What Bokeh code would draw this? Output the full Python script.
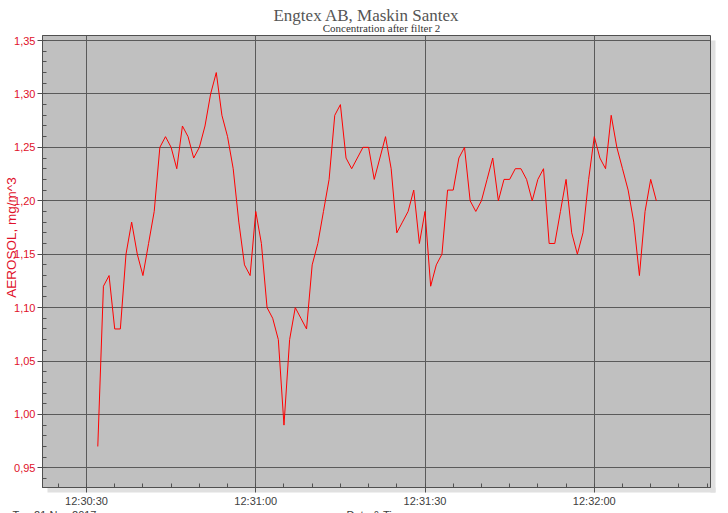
import math
import pandas as pd
from bokeh.plotting import figure
from bokeh.layouts import column
from bokeh.models import (ColumnDataSource, Range1d, SingleIntervalTicker,
                          DatetimeTickFormatter, CustomJSTickFormatter, Label, BoxAnnotation)
from bokeh.embed import file_html
from bokeh.resources import INLINE

# ---- data ----
title_text = "Engtex AB, Maskin Santex"
subtitle_text = "Concentration after filter 2"
y_label = "AEROSOL, mg/m^3"
x_label = "Date & Time"
date_label = "Tue 21 Nov 2017"

start_time = "2017-11-21 12:30:32"
sample_seconds = 1

aerosol = [
    0.97, 1.12, 1.13, 1.08, 1.08, 1.15, 1.18, 1.15, 1.13, 1.16,
    1.19, 1.25, 1.26, 1.25, 1.23, 1.27, 1.26, 1.24, 1.25, 1.27,
    1.30, 1.32, 1.28, 1.26, 1.23, 1.18, 1.14, 1.13, 1.19, 1.16,
    1.10, 1.09, 1.07, 0.99, 1.07, 1.10, 1.09, 1.08, 1.14, 1.16,
    1.19, 1.22, 1.28, 1.29, 1.24, 1.23, 1.24, 1.25, 1.25, 1.22,
    1.24, 1.26, 1.23, 1.17, 1.18, 1.19, 1.21, 1.16, 1.19, 1.12,
    1.14, 1.15, 1.21, 1.21, 1.24, 1.25, 1.20, 1.19, 1.20, 1.22,
    1.24, 1.20, 1.22, 1.22, 1.23, 1.23, 1.22, 1.20, 1.22, 1.23,
    1.16, 1.16, 1.19, 1.22, 1.17, 1.15, 1.17, 1.22, 1.26, 1.24,
    1.23, 1.28, 1.25, 1.23, 1.21, 1.18, 1.13, 1.19, 1.22, 1.20,
]

x_start = "2017-11-21 12:30:22.2"
x_end = "2017-11-21 12:32:20.6"
y_start = 0.9316
y_end = 1.3547

times = pd.date_range(start=start_time, periods=len(aerosol), freq=f"{sample_seconds}s")
src = ColumnDataSource(dict(t=times, v=aerosol))

W, H = 728, 513
BL, BT, BR, BB = 42, 35, 18, 26
RED = "#E0102A"

# ---- background layer: page texts and frame shadow (pixel layout of the page) ----
bg = figure(width=W, height=H, x_range=Range1d(0, W), y_range=Range1d(0, H),
            min_border=0, x_axis_location=None, y_axis_location=None,
            output_backend="svg", toolbar_location=None, title=None)
bg.grid.visible = False
bg.outline_line_color = None
bg.background_fill_color = "white"
bg.border_fill_color = "white"

shadow = "#E0E0E0"
def screen_box(l, r, t, b):
    # window pixel box -> screen units of bg frame (y up from bottom)
    return BoxAnnotation(left=l, right=r, top=H - t, bottom=H - b,
                         left_units="screen", right_units="screen",
                         top_units="screen", bottom_units="screen",
                         fill_color=shadow, fill_alpha=1, line_alpha=0)

bg.add_layout(screen_box(W - BR, W - BR + 5, BT + 5, H - BB + 5))
bg.add_layout(screen_box(BL + 5, W - BR + 5, H - BB, H - BB + 5))

def page_label(x, y, text, **kw):
    bg.add_layout(Label(x=x, y=H - y, x_units="screen", y_units="screen", text=text, **kw))

page_label(366, 15, title_text, text_align="center", text_baseline="alphabetic",
           text_font="Liberation Serif", text_font_size="17px", text_color="#555555")
page_label(381, 27, subtitle_text, text_align="center", text_baseline="alphabetic",
           text_font="Liberation Serif", text_font_size="11px", text_color="#333333")
page_label(11, 237, y_label, angle=math.pi / 2, text_align="center",
           text_baseline="alphabetic",
           text_font="Liberation Sans", text_font_size="13.5px", text_color=RED)
page_label(12, 514, date_label, text_align="left", text_baseline="alphabetic",
           text_font="Liberation Sans", text_font_size="11px", text_color="#404040")
page_label(346, 514, x_label, text_align="left", text_baseline="alphabetic",
           text_font="Liberation Sans", text_font_size="11px", text_color="#404040")

# ---- main chart ----
p = figure(width=W, height=H, x_axis_type="datetime", output_backend="svg",
           toolbar_location=None, title=None,
           x_range=Range1d(pd.Timestamp(x_start), pd.Timestamp(x_end)),
           y_range=Range1d(y_start, y_end),
           min_border_left=BL, min_border_top=BT, min_border_right=BR, min_border_bottom=BB,
           margin=(-H, 0, 0, 0))

# the two layers must not share frame alignment
for fig in (bg, p):
    if "frame_align" in fig.properties():
        fig.frame_align = False

p.background_fill_color = "#C0C0C0"
p.border_fill_alpha = 0
p.outline_line_color = "#505050"
p.outline_line_width = 1

p.line(x="t", y="v", source=src, line_color="#FF0000", line_width=1)

xa = p.xaxis[0]
xa.ticker = SingleIntervalTicker(interval=30000, num_minor_ticks=6)
xa.formatter = DatetimeTickFormatter(seconds="%H:%M:%S", minsec="%H:%M:%S",
                                     minutes="%H:%M:%S", hourmin="%H:%M:%S",
                                     hours="%H:%M:%S", milliseconds="%H:%M:%S")
ya = p.yaxis[0]
ya.ticker = SingleIntervalTicker(interval=0.05, num_minor_ticks=5)
ya.formatter = CustomJSTickFormatter(code="return tick.toFixed(2).replace('.', ',');")

for ax in (xa, ya):
    ax.axis_line_color = "#505050"
    ax.major_tick_line_color = "#505050"
    ax.minor_tick_line_color = "#505050"
    ax.major_tick_out = 5
    ax.major_tick_in = 0
    ax.minor_tick_in = 4
    ax.minor_tick_out = 0
    ax.major_label_text_font = "Liberation Sans"
    ax.major_label_text_font_size = "11px"

xa.major_label_text_color = "#404040"
xa.major_label_standoff = 2
ya.major_label_text_color = RED
ya.major_label_standoff = 2

p.xgrid.grid_line_color = "#5A5A5A"
p.ygrid.grid_line_color = "#5A5A5A"

layout = column(bg, p)
open("out.html", "w").write(file_html(layout, INLINE))
